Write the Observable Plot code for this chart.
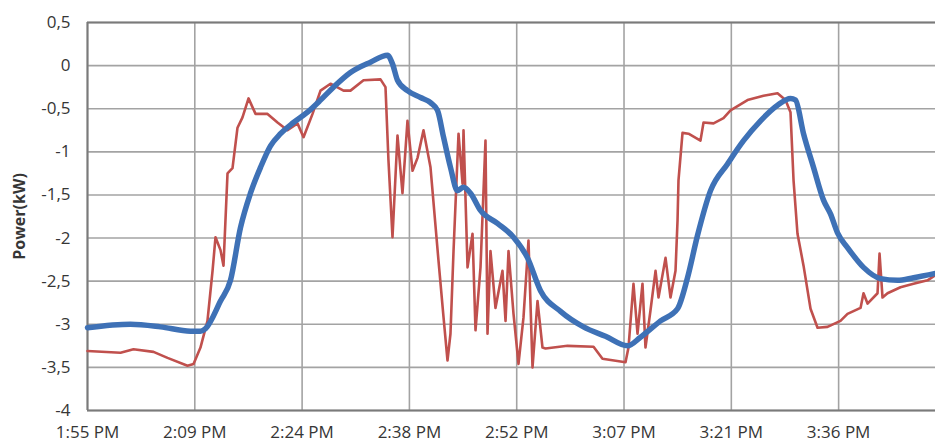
<!DOCTYPE html>
<html>
<head>
<meta charset="utf-8">
<script src="https://cdn.jsdelivr.net/npm/d3@7"></script>
<script src="https://cdn.jsdelivr.net/npm/@observablehq/plot@0.6"></script>
<style>
  body { margin: 0; background: #fff; }
  #chart { width: 935px; height: 444px; overflow: hidden; }
</style>
</head>
<body>
<div id="chart"></div>
<script>
// Time axis: minutes after 1:55:12 PM, one major step = 0.01 day = 14.4 min
const xTicks = [0, 14.4, 28.8, 43.2, 57.6, 72, 86.4, 100.8];
const xTickLabels = ["1:55 PM", "2:09 PM", "2:24 PM", "2:38 PM", "2:52 PM", "3:07 PM", "3:21 PM", "3:36 PM"];
const yTicks = [-4, -3.5, -3, -2.5, -2, -1.5, -1, -0.5, 0, 0.5];
const xEnd = 113.8;

// Blue series: power (kW)
const blueTime = [0, 5.77, 9.80, 13.82, 15.16, 15.84, 17.85, 19.19, 20.53, 21.87, 23.22, 24.56, 25.90, 27.65, 29.52, 31.27, 33.01, 35.29, 37.98, 40.26, 40.93, 41.60, 42.94, 44.69, 46.03, 46.97, 47.78, 48.71, 49.65, 50.46, 51.40, 52.74, 55.02, 57.17, 59.05, 60.79, 63.48, 66.56, 69.52, 72.47, 74.21, 76.90, 79.18, 80.52, 81.86, 83.61, 85.89, 88.04, 90.32, 92.60, 94.34, 95.01, 96.09, 97.43, 98.77, 99.71, 100.65, 101.99, 104.14, 106.42, 108.70, 110.85, 113.80];
const blueValue = [-3.04, -3.00, -3.03, -3.08, -3.08, -3.05, -2.73, -2.49, -1.88, -1.48, -1.18, -0.93, -0.79, -0.66, -0.54, -0.40, -0.25, -0.08, 0.04, 0.12, 0.02, -0.17, -0.29, -0.37, -0.43, -0.52, -0.83, -1.18, -1.45, -1.41, -1.48, -1.68, -1.83, -1.99, -2.23, -2.61, -2.85, -3.03, -3.14, -3.25, -3.15, -2.96, -2.82, -2.46, -1.97, -1.45, -1.14, -0.87, -0.64, -0.46, -0.38, -0.40, -0.79, -1.18, -1.56, -1.72, -1.94, -2.11, -2.34, -2.47, -2.49, -2.46, -2.41];

// Red series: power (kW)
const redTime = [0, 4.43, 6.17, 8.86, 10.74, 13.42, 14.23, 15.16, 16.10, 16.78, 17.18, 17.85, 18.25, 18.79, 19.46, 20.13, 20.80, 21.61, 22.55, 24.16, 25.50, 26.84, 28.18, 28.99, 30.20, 31.27, 32.61, 34.36, 35.29, 37.04, 39.32, 39.99, 40.39, 40.93, 41.60, 42.27, 42.94, 43.62, 44.29, 45.09, 46.03, 47.10, 47.78, 48.31, 48.71, 49.12, 49.79, 50.33, 50.46, 51.00, 51.67, 52.07, 52.74, 53.41, 53.68, 54.08, 54.75, 55.69, 56.10, 56.50, 57.17, 57.84, 58.51, 59.18, 59.72, 60.39, 61.06, 61.46, 64.42, 67.91, 69.11, 72.20, 72.60, 73.27, 73.81, 74.48, 74.88, 75.55, 76.23, 76.63, 77.57, 78.24, 78.91, 79.18, 79.31, 79.85, 80.65, 82.26, 82.67, 84.01, 85.35, 86.29, 88.57, 90.72, 92.60, 93.67, 94.34, 94.75, 95.28, 96.09, 97.03, 97.97, 99.31, 101.05, 101.99, 103.74, 104.14, 104.68, 106.02, 106.29, 106.69, 107.36, 109.10, 110.85, 112.73, 113.80];
const redValue = [-3.31, -3.33, -3.29, -3.32, -3.39, -3.48, -3.46, -3.27, -2.96, -2.38, -1.99, -2.14, -2.32, -1.25, -1.19, -0.72, -0.60, -0.38, -0.56, -0.56, -0.66, -0.75, -0.67, -0.83, -0.56, -0.29, -0.21, -0.29, -0.29, -0.17, -0.16, -0.25, -1.10, -1.99, -0.81, -1.48, -0.64, -1.22, -1.07, -0.75, -1.18, -2.26, -2.92, -3.42, -3.11, -2.15, -0.79, -1.37, -0.75, -2.34, -1.95, -3.07, -2.34, -0.87, -3.11, -2.15, -2.81, -2.38, -2.96, -2.15, -2.88, -3.46, -2.92, -2.03, -3.50, -2.73, -3.27, -3.28, -3.25, -3.26, -3.40, -3.44, -3.27, -2.53, -3.11, -2.53, -3.27, -2.84, -2.38, -2.69, -2.23, -2.69, -2.38, -1.80, -1.33, -0.78, -0.79, -0.87, -0.66, -0.67, -0.61, -0.52, -0.40, -0.35, -0.32, -0.40, -0.54, -1.33, -1.95, -2.32, -2.82, -3.04, -3.03, -2.96, -2.88, -2.81, -2.64, -2.76, -2.64, -2.18, -2.69, -2.64, -2.57, -2.53, -2.49, -2.43];

const toRows = (ts, vs) => ts.map((t, i) => ({t, v: vs[i]})).filter(d => d.v !== undefined);
const blue = toRows(blueTime, blueValue);
const red = toRows(redTime, redValue);

const gridColor = "#a3a3a3";
const axisColor = "#7a7a7a";
const textColor = "#363636";

const chart = Plot.plot({
  width: 935,
  height: 444,
  marginLeft: 87,
  marginRight: 0,
  marginTop: 22,
  marginBottom: 34,
  style: {fontFamily: "'Open Sans', sans-serif", fontSize: "17px", background: "#fff", overflow: "visible"},
  x: {domain: [0, xEnd]},
  y: {domain: [-4, 0.5]},
  marks: [
    Plot.gridX(xTicks, {stroke: gridColor, strokeOpacity: 1, strokeWidth: 1.6}),
    Plot.gridY(yTicks, {stroke: gridColor, strokeOpacity: 1, strokeWidth: 1.6}),
    Plot.ruleY([-4, 0.5], {stroke: axisColor, strokeWidth: 2}),
    Plot.ruleX([0], {stroke: axisColor, strokeWidth: 2}),
    Plot.line(red, {x: "t", y: "v", stroke: "#c0504d", strokeWidth: 2.6, strokeLinejoin: "round"}),
    Plot.line(blue, {x: "t", y: "v", curve: "monotone-x", stroke: "#3e71b6", strokeWidth: 5.5, strokeLinejoin: "round", strokeLinecap: "round"}),
    Plot.axisX(xTicks, {
      tickSize: 0, tickPadding: 15, fill: textColor, label: null,
      tickFormat: d => xTickLabels[xTicks.indexOf(d)]
    }),
    Plot.axisY(yTicks, {
      tickSize: 0, tickPadding: 17, fill: textColor, label: null,
      tickFormat: d => String(d).replace(".", ",")
    }),
    Plot.text(["Power(kW)"], {
      frameAnchor: "left", textAnchor: "middle", rotate: -90, dx: -68,
      fontWeight: "bold", fontSize: 16, fill: textColor
    })
  ]
});

document.getElementById("chart").append(chart);
</script>
</body>
</html>
